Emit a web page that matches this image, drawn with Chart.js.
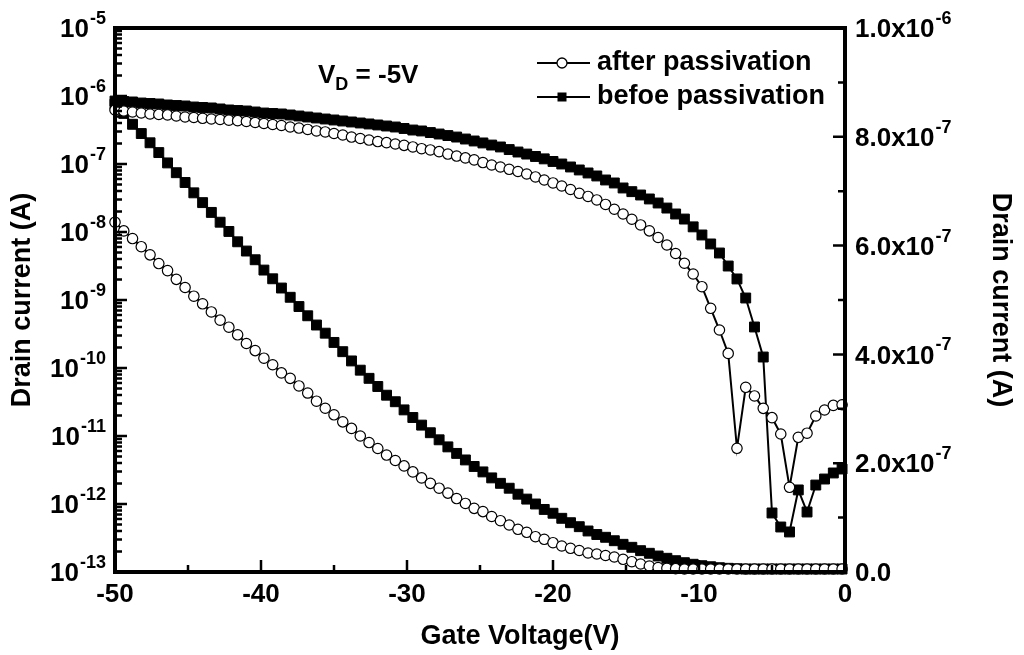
<!DOCTYPE html>
<html>
<head>
<meta charset="utf-8">
<script src="https://cdn.jsdelivr.net/npm/chart.js@4.4.1/dist/chart.umd.min.js"></script>
<style>
  html, body { margin: 0; padding: 0; background: #fff; }
  #wrap { width: 1024px; height: 655px; }
</style>
</head>
<body>
<div id="wrap"><canvas id="chart" width="1024" height="655"></canvas></div>
<script>
// gate voltage sweep (V)
const gateV = [
  -50, -49.4, -48.8, -48.2, -47.6, -47, -46.4, -45.8, -45.2, -44.6,
  -44, -43.4, -42.8, -42.2, -41.6, -41, -40.4, -39.8, -39.2, -38.6,
  -38, -37.4, -36.8, -36.2, -35.6, -35, -34.4, -33.8, -33.2, -32.6,
  -32, -31.4, -30.8, -30.2, -29.6, -29, -28.4, -27.8, -27.2, -26.6,
  -26, -25.4, -24.8, -24.2, -23.6, -23, -22.4, -21.8, -21.2, -20.6,
  -20, -19.4, -18.8, -18.2, -17.6, -17, -16.4, -15.8, -15.2, -14.6,
  -14, -13.4, -12.8, -12.2, -11.6, -11, -10.4, -9.8, -9.2, -8.6,
  -8, -7.4, -6.8, -6.2, -5.6, -5, -4.4, -3.8, -3.2, -2.6,
  -2, -1.4, -0.8, -0.2
];

// drain current on the log (left) axis
const afterLog = [
  6.23e-7, 6.02e-7, 5.82e-7, 5.62e-7, 5.44e-7, 5.35e-7, 5.26e-7, 5.08e-7, 4.91e-7, 4.83e-7,
  4.70e-7, 4.59e-7, 4.51e-7, 4.41e-7, 4.33e-7, 4.22e-7, 4.08e-7, 3.94e-7, 3.81e-7, 3.68e-7,
  3.50e-7, 3.38e-7, 3.22e-7, 3.06e-7, 2.96e-7, 2.81e-7, 2.67e-7, 2.49e-7, 2.37e-7, 2.25e-7,
  2.14e-7, 2.06e-7, 1.97e-7, 1.88e-7, 1.78e-7, 1.68e-7, 1.61e-7, 1.52e-7, 1.40e-7, 1.31e-7,
  1.23e-7, 1.15e-7, 1.05e-7, 9.67e-8, 9.04e-8, 8.36e-8, 7.76e-8, 7.13e-8, 6.45e-8, 5.82e-8,
  5.26e-8, 4.75e-8, 4.22e-8, 3.71e-8, 3.33e-8, 2.96e-8, 2.54e-8, 2.16e-8, 1.84e-8, 1.54e-8,
  1.27e-8, 1.04e-8, 8.30e-9, 6.44e-9, 4.83e-9, 3.47e-9, 2.41e-9, 1.57e-9, 7.55e-10, 3.62e-10,
  1.64e-10, 6.59e-12, 5.20e-11, 3.88e-11, 2.55e-11, 1.86e-11, 1.07e-11, 1.76e-12, 9.57e-12, 1.10e-11,
  1.97e-11, 2.41e-11, 2.82e-11, 2.88e-11
];
const beforeLog = [
  8.43e-7, 8.30e-7, 8.17e-7, 7.89e-7, 7.76e-7, 7.63e-7, 7.38e-7, 7.25e-7, 7.13e-7, 6.89e-7,
  6.78e-7, 6.67e-7, 6.45e-7, 6.23e-7, 6.12e-7, 6.02e-7, 5.82e-7, 5.62e-7, 5.53e-7, 5.44e-7,
  5.26e-7, 5.08e-7, 4.91e-7, 4.75e-7, 4.59e-7, 4.44e-7, 4.29e-7, 4.15e-7, 4.01e-7, 3.88e-7,
  3.75e-7, 3.62e-7, 3.50e-7, 3.33e-7, 3.16e-7, 3.06e-7, 2.90e-7, 2.76e-7, 2.62e-7, 2.49e-7,
  2.33e-7, 2.18e-7, 2.04e-7, 1.90e-7, 1.78e-7, 1.63e-7, 1.50e-7, 1.40e-7, 1.29e-7, 1.19e-7,
  1.09e-7, 1.00e-7, 9.04e-8, 8.17e-8, 7.38e-8, 6.67e-8, 5.82e-8, 5.26e-8, 4.44e-8, 3.92e-8,
  3.50e-8, 3.06e-8, 2.67e-8, 2.25e-8, 1.84e-8, 1.55e-8, 1.19e-8, 9.04e-9, 6.67e-9, 4.91e-9,
  3.16e-9, 2.04e-9, 1.07e-9, 4.01e-10, 1.45e-10, 7.38e-13, 4.59e-13, 3.88e-13, 1.61e-12, 7.63e-13,
  1.90e-12, 2.33e-12, 2.86e-12, 3.27e-12
];

// drain current on the linear (right) axis
const afterLin = [
  6.43e-7, 6.27e-7, 6.13e-7, 5.98e-7, 5.83e-7, 5.67e-7, 5.54e-7, 5.38e-7, 5.23e-7, 5.07e-7,
  4.93e-7, 4.78e-7, 4.63e-7, 4.50e-7, 4.36e-7, 4.20e-7, 4.07e-7, 3.93e-7, 3.81e-7, 3.66e-7,
  3.56e-7, 3.42e-7, 3.29e-7, 3.14e-7, 3.01e-7, 2.89e-7, 2.76e-7, 2.64e-7, 2.50e-7, 2.38e-7,
  2.27e-7, 2.15e-7, 2.05e-7, 1.95e-7, 1.84e-7, 1.73e-7, 1.63e-7, 1.54e-7, 1.45e-7, 1.35e-7,
  1.26e-7, 1.17e-7, 1.11e-7, 1.02e-7, 9.43e-8, 8.64e-8, 7.85e-8, 7.30e-8, 6.49e-8, 6.01e-8,
  5.39e-8, 4.78e-8, 4.36e-8, 3.95e-8, 3.49e-8, 3.31e-8, 3.03e-8, 2.76e-8, 2.33e-8, 1.89e-8,
  1.47e-8, 1.10e-8, 8.3e-9, 6.8e-9, 6.1e-9, 5.5e-9, 5.5e-9, 5.5e-9, 5.5e-9, 5.5e-9,
  5.5e-9, 5.5e-9, 5.5e-9, 5.5e-9, 5.5e-9, 5.5e-9, 5.5e-9, 5.5e-9, 5.5e-9, 5.5e-9,
  5.5e-9, 5.5e-9, 5.5e-9, 5.5e-9
];
const beforeLin = [
  8.60e-7, 8.43e-7, 8.23e-7, 8.06e-7, 7.89e-7, 7.71e-7, 7.52e-7, 7.34e-7, 7.16e-7, 6.97e-7,
  6.79e-7, 6.61e-7, 6.43e-7, 6.26e-7, 6.07e-7, 5.90e-7, 5.74e-7, 5.55e-7, 5.39e-7, 5.22e-7,
  5.05e-7, 4.88e-7, 4.71e-7, 4.54e-7, 4.39e-7, 4.22e-7, 4.05e-7, 3.88e-7, 3.71e-7, 3.56e-7,
  3.41e-7, 3.25e-7, 3.13e-7, 2.98e-7, 2.84e-7, 2.70e-7, 2.56e-7, 2.43e-7, 2.30e-7, 2.18e-7,
  2.06e-7, 1.94e-7, 1.84e-7, 1.73e-7, 1.63e-7, 1.54e-7, 1.43e-7, 1.34e-7, 1.25e-7, 1.15e-7,
  1.08e-7, 9.87e-8, 9.06e-8, 8.33e-8, 7.54e-8, 6.89e-8, 6.38e-8, 5.75e-8, 5.09e-8, 4.54e-8,
  3.92e-8, 3.44e-8, 2.94e-8, 2.52e-8, 2.08e-8, 1.71e-8, 1.42e-8, 1.16e-8, 9.7e-9, 7.9e-9,
  6.8e-9, 6.0e-9, 5.5e-9, 5.5e-9, 5.5e-9, 5.5e-9, 5.5e-9, 5.5e-9, 5.5e-9, 5.5e-9,
  5.5e-9, 5.5e-9, 5.5e-9, 5.5e-9
];

// axis ticks
const xTicks = [-50, -40, -30, -20, -10, 0];
const xMinorTicks = [-45, -35, -25, -15, -5];
const logExponents = [-13, -12, -11, -10, -9, -8, -7, -6, -5];
const linTicks = [0, 2e-7, 4e-7, 6e-7, 8e-7, 1e-6];
const linTickText = ['0.0', '2.0x10', '4.0x10', '6.0x10', '8.0x10', '1.0x10'];
const linTickExp = ['', '-7', '-7', '-7', '-7', '-6'];
const linMinorTicks = [1e-7, 3e-7, 5e-7, 7e-7, 9e-7];

const FONT = '"Liberation Sans", Arial, sans-serif';
const big = 'bold 26px ' + FONT;
const small = 'bold 18px ' + FONT;

const pts = ys => gateV.map((v, i) => ({ x: v, y: ys[i] }));

// base text followed by a raised exponent
function drawPow(ctx, base, exp, x, y, align){
  ctx.font = big;
  const wb = ctx.measureText(base).width;
  ctx.font = small;
  const we = exp ? ctx.measureText(exp).width : 0;
  let x0 = x;
  if(align === 'right') x0 = x - wb - we;
  ctx.textAlign = 'left';
  ctx.textBaseline = 'middle';
  ctx.font = big;
  ctx.fillText(base, x0, y);
  if(exp){
    ctx.font = small;
    ctx.fillText(exp, x0 + wb + 1, y - 11);
  }
}

const framePlugin = {
  id: 'frame',
  afterDraw(chart){
    const { ctx, chartArea: a } = chart;
    const x = chart.scales.x, yL = chart.scales.yLog, yR = chart.scales.yLin;
    ctx.save();
    ctx.strokeStyle = '#000';
    ctx.fillStyle = '#000';

    // ticks pointing inward
    ctx.lineWidth = 2.5;
    ctx.beginPath();
    xTicks.forEach(v => { const p = x.getPixelForValue(v); ctx.moveTo(p, a.bottom); ctx.lineTo(p, a.bottom - 12); });
    xMinorTicks.forEach(v => { const p = x.getPixelForValue(v); ctx.moveTo(p, a.bottom); ctx.lineTo(p, a.bottom - 7); });
    logExponents.forEach(e => {
      const p = yL.getPixelForValue(Math.pow(10, e));
      ctx.moveTo(a.left, p); ctx.lineTo(a.left + 12, p);
      if(e < -5){
        for(let k = 2; k <= 9; k++){
          const q = yL.getPixelForValue(k * Math.pow(10, e));
          ctx.moveTo(a.left, q); ctx.lineTo(a.left + 7, q);
        }
      }
    });
    linTicks.forEach(v => { const p = yR.getPixelForValue(v); ctx.moveTo(a.right, p); ctx.lineTo(a.right - 12, p); });
    linMinorTicks.forEach(v => { const p = yR.getPixelForValue(v); ctx.moveTo(a.right, p); ctx.lineTo(a.right - 7, p); });
    ctx.stroke();

    // frame
    ctx.lineWidth = 4;
    ctx.strokeRect(a.left, a.top, a.right - a.left, a.bottom - a.top);

    // x tick labels
    ctx.font = big;
    ctx.textAlign = 'center';
    ctx.textBaseline = 'middle';
    xTicks.forEach(v => ctx.fillText(String(v), x.getPixelForValue(v), a.bottom + 23));

    // left log labels
    logExponents.forEach(e => drawPow(ctx, '10', String(e), a.left - 10, yL.getPixelForValue(Math.pow(10, e)) + 2, 'right'));

    // right linear labels
    linTicks.forEach((v, i) => drawPow(ctx, linTickText[i], linTickExp[i], a.right + 10, yR.getPixelForValue(v) + 2, 'left'));

    // axis titles
    ctx.font = 'bold 27px ' + FONT;
    ctx.textAlign = 'center';
    ctx.textBaseline = 'middle';
    ctx.fillText('Gate Voltage(V)', 520, 637);
    ctx.save();
    ctx.translate(23, (a.top + a.bottom) / 2);
    ctx.rotate(-Math.PI / 2);
    ctx.fillText('Drain current (A)', 0, 0);
    ctx.restore();
    ctx.save();
    ctx.translate(1000, (a.top + a.bottom) / 2);
    ctx.rotate(Math.PI / 2);
    ctx.fillText('Drain current (A)', 0, 0);
    ctx.restore();

    // V_D annotation
    ctx.textAlign = 'left';
    ctx.font = big;
    ctx.fillText('V', 318, 76);
    let w = ctx.measureText('V').width;
    ctx.font = small;
    ctx.fillText('D', 318 + w, 85);
    const wd = ctx.measureText('D').width;
    ctx.font = big;
    ctx.fillText(' = -5V', 318 + w + wd, 76);

    // legend
    const rows = [
      { y: 63, text: 'after passivation', square: false },
      { y: 97, text: 'befoe passivation', square: true }
    ];
    rows.forEach(r => {
      ctx.lineWidth = 2;
      ctx.beginPath();
      ctx.moveTo(537, r.y); ctx.lineTo(590, r.y);
      ctx.stroke();
      if(r.square){
        ctx.fillRect(557.5, r.y - 4.5, 9, 9);
      } else {
        ctx.beginPath();
        ctx.arc(562, r.y, 5, 0, Math.PI * 2);
        ctx.fillStyle = '#fff';
        ctx.fill();
        ctx.lineWidth = 1.3;
        ctx.stroke();
        ctx.fillStyle = '#000';
      }
      ctx.font = 'bold 27px ' + FONT;
      ctx.textAlign = 'left';
      ctx.fillText(r.text, 597, r.y);
    });
    ctx.restore();
  }
};

const circleStyle = { pointStyle: 'circle', pointRadius: 5.2, pointBackgroundColor: '#fff', pointBorderColor: '#000', pointBorderWidth: 1.2 };
const squareStyle = { pointStyle: 'rect', pointRadius: 7, pointBackgroundColor: '#000', pointBorderColor: '#000', pointBorderWidth: 1 };

new Chart(document.getElementById('chart'), {
  type: 'line',
  data: {
    datasets: [
      Object.assign({ label: 'after passivation (lin)', data: pts(afterLin), yAxisID: 'yLin' }, circleStyle),
      Object.assign({ label: 'after passivation', data: pts(afterLog), yAxisID: 'yLog' }, circleStyle),
      Object.assign({ label: 'befoe passivation (lin)', data: pts(beforeLin), yAxisID: 'yLin' }, squareStyle),
      Object.assign({ label: 'befoe passivation', data: pts(beforeLog), yAxisID: 'yLog' }, squareStyle)
    ].map(d => Object.assign(d, { borderColor: '#000', borderWidth: 2, fill: false, tension: 0, clip: false }))
  },
  options: {
    responsive: false,
    animation: false,
    devicePixelRatio: 1,
    layout: { padding: { left: 115, right: 179, top: 28, bottom: 83 } },
    plugins: { legend: { display: false }, tooltip: { enabled: false } },
    scales: {
      x: { type: 'linear', min: -50, max: 0, display: false },
      yLog: { type: 'logarithmic', position: 'left', min: 1e-13, max: 1e-5, display: false },
      yLin: { type: 'linear', position: 'right', min: 0, max: 1e-6, display: false }
    }
  },
  plugins: [framePlugin]
});
</script>
</body>
</html>
